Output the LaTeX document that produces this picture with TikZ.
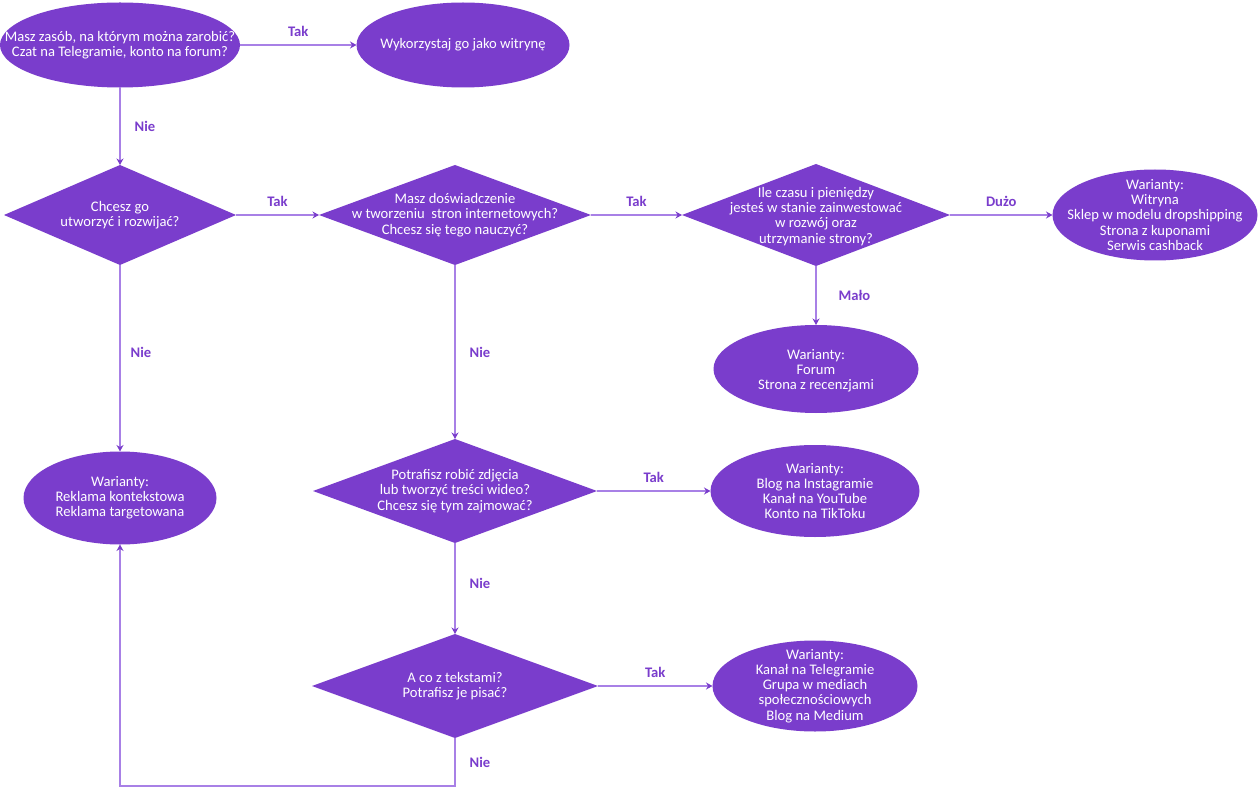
\documentclass[tikz,border=0pt]{standalone}
\usepackage{fontspec}
\setmainfont{Carlito}
\usetikzlibrary{shapes.geometric,arrows.meta}
\definecolor{pur}{RGB}{122,61,204}
\definecolor{lin}{RGB}{168,128,230}
\begin{document}
\begin{tikzpicture}[x=1pt,y=-1pt,
  shp/.style={fill=pur,draw=none,inner sep=0pt,outer sep=0pt},
  txt/.style={text=white,align=center,inner sep=0pt,font=\fontsize{14.6}{15.2}\selectfont},
  lbl/.style={text=pur,inner sep=0pt,font=\fontsize{14.6}{15.2}\selectfont\bfseries},
  arr/.style={draw=lin,line width=1.3pt,-{Stealth[length=6.5pt,width=7pt,color=pur]}}]
\fill[white] (0,0) rectangle (1260,794);
\useasboundingbox (0,0) rectangle (1260,794);
% shapes
\node[shp,ellipse,minimum width=240,minimum height=85] (A) at (120,45) {};
\node[shp,ellipse,minimum width=213,minimum height=85] (B) at (463,45) {};
\node[shp,diamond,minimum width=232,minimum height=100] (C) at (120,215) {};
\node[shp,diamond,minimum width=272,minimum height=100] (D) at (455,215) {};
\node[shp,diamond,minimum width=268,minimum height=102] (E) at (816,215) {};
\node[shp,ellipse,minimum width=205,minimum height=91] (F) at (1155,215) {};
\node[shp,ellipse,minimum width=205,minimum height=88] (G) at (816,369) {};
\node[shp,ellipse,minimum width=193,minimum height=93] (H) at (120,498) {};
\node[shp,diamond,minimum width=284,minimum height=104] (I) at (455,491) {};
\node[shp,ellipse,minimum width=209,minimum height=92] (J) at (815,491) {};
\node[shp,diamond,minimum width=286,minimum height=104] (K) at (455,686) {};
\node[shp,ellipse,minimum width=205,minimum height=91] (L) at (815,686) {};
% texts
\node[txt] (At) at (A) {Masz zasób, na którym można zarobić?\\Czat na Telegramie, konto na forum?};
\node[txt] (Bt) at (B) {Wykorzystaj go jako witrynę};
\node[txt] (Ct) at (C) {Chcesz go\\utworzyć i rozwijać?};
\node[txt] (Dt) at (D) {Masz doświadczenie\\w tworzeniu~ stron internetowych?\\Chcesz się tego nauczyć?};
\node[txt] (Et) at ([yshift=-1.5pt]E.center) {Ile czasu i pieniędzy\\jesteś w stanie zainwestować\\w rozwój oraz\\utrzymanie strony?};
\node[txt] (Ft) at (F) {Warianty:\\Witryna\\Sklep w modelu dropshipping\\Strona z kuponami\\Serwis cashback};
\node[txt] (Gt) at ([yshift=-2pt]G.center) {Warianty:\\Forum\\Strona z recenzjami};
\node[txt] (Ht) at (H) {Warianty:\\Reklama kontekstowa\\Reklama targetowana};
\node[txt] (It) at (I) {Potrafisz robić zdjęcia\\lub tworzyć treści wideo?\\Chcesz się tym zajmować?};
\node[txt] (Jt) at (J) {Warianty:\\Blog na Instagramie\\Kanał na YouTube\\Konto na TikToku};
\node[txt] (Kt) at (K) {A co z tekstami?\\Potrafisz je pisać?};
\node[txt] (Lt) at (L) {Warianty:\\Kanał na Telegramie\\Grupa w mediach\\społecznościowych\\Blog na Medium};
% connectors
\draw[arr] (A) -- node[lbl,above=8pt]{Tak} (B);
\draw[arr] (A) -- node[lbl,right=14pt]{Nie} (C);
\draw[arr] (C) -- node[lbl,above=8pt]{Tak} (D);
\draw[arr] (D) -- node[lbl,above=8pt]{Tak} (E);
\draw[arr] (E) -- node[lbl,above=8pt]{Dużo} (F);
\draw[arr] (E) -- node[lbl,right=22pt]{Mało} (G);
\draw[arr] (C) -- node[lbl,right=10pt,yshift=6pt]{Nie} (H);
\draw[arr] (D) -- node[lbl,right=14pt]{Nie} (I);
\draw[arr] (I) -- node[lbl,above=8pt]{Tak} (J);
\draw[arr] (I) -- node[lbl,right=14pt,yshift=5pt]{Nie} (K);
\draw[arr] (K) -- node[lbl,above=8pt]{Tak} (L);
\coordinate (KB) at ([yshift=-48pt]K.south);
\draw[arr] (K.south) -- node[lbl,right=14pt]{Nie} (KB) -| (H.south);
\end{tikzpicture}
\end{document}
